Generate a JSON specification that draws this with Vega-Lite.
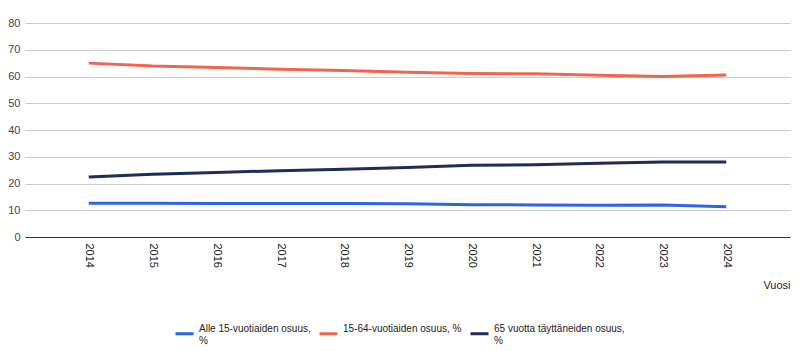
{
  "$schema": "https://vega.github.io/schema/vega-lite/v6.json",
  "autosize": {"type": "none"},
  "width": 765,
  "height": 214,
  "padding": {"left": 25, "top": 23, "right": 10, "bottom": 114},
  "background": "white",
  "config": {
    "view": {"stroke": null},
    "font": "Liberation Sans",
    "axis": {"labelFont": "Liberation Sans", "titleFont": "Liberation Sans"},
    "legend": {"labelFont": "Liberation Sans"}
  },
  "data": {
    "values": [
      {"Vuosi": 2014, "sarja": "Alle 15-vuotiaiden osuus, %", "arvo": 12.6},
      {"Vuosi": 2015, "sarja": "Alle 15-vuotiaiden osuus, %", "arvo": 12.6},
      {"Vuosi": 2016, "sarja": "Alle 15-vuotiaiden osuus, %", "arvo": 12.5},
      {"Vuosi": 2017, "sarja": "Alle 15-vuotiaiden osuus, %", "arvo": 12.5},
      {"Vuosi": 2018, "sarja": "Alle 15-vuotiaiden osuus, %", "arvo": 12.5},
      {"Vuosi": 2019, "sarja": "Alle 15-vuotiaiden osuus, %", "arvo": 12.4},
      {"Vuosi": 2020, "sarja": "Alle 15-vuotiaiden osuus, %", "arvo": 12.1},
      {"Vuosi": 2021, "sarja": "Alle 15-vuotiaiden osuus, %", "arvo": 12.0},
      {"Vuosi": 2022, "sarja": "Alle 15-vuotiaiden osuus, %", "arvo": 11.9},
      {"Vuosi": 2023, "sarja": "Alle 15-vuotiaiden osuus, %", "arvo": 12.0},
      {"Vuosi": 2024, "sarja": "Alle 15-vuotiaiden osuus, %", "arvo": 11.3},
      {"Vuosi": 2014, "sarja": "15-64-vuotiaiden osuus, %", "arvo": 65.0},
      {"Vuosi": 2015, "sarja": "15-64-vuotiaiden osuus, %", "arvo": 63.9},
      {"Vuosi": 2016, "sarja": "15-64-vuotiaiden osuus, %", "arvo": 63.4},
      {"Vuosi": 2017, "sarja": "15-64-vuotiaiden osuus, %", "arvo": 62.7},
      {"Vuosi": 2018, "sarja": "15-64-vuotiaiden osuus, %", "arvo": 62.2},
      {"Vuosi": 2019, "sarja": "15-64-vuotiaiden osuus, %", "arvo": 61.6},
      {"Vuosi": 2020, "sarja": "15-64-vuotiaiden osuus, %", "arvo": 61.1},
      {"Vuosi": 2021, "sarja": "15-64-vuotiaiden osuus, %", "arvo": 61.0},
      {"Vuosi": 2022, "sarja": "15-64-vuotiaiden osuus, %", "arvo": 60.5},
      {"Vuosi": 2023, "sarja": "15-64-vuotiaiden osuus, %", "arvo": 60.0},
      {"Vuosi": 2024, "sarja": "15-64-vuotiaiden osuus, %", "arvo": 60.6},
      {"Vuosi": 2014, "sarja": "65 vuotta täyttäneiden osuus, %", "arvo": 22.4},
      {"Vuosi": 2015, "sarja": "65 vuotta täyttäneiden osuus, %", "arvo": 23.5},
      {"Vuosi": 2016, "sarja": "65 vuotta täyttäneiden osuus, %", "arvo": 24.1},
      {"Vuosi": 2017, "sarja": "65 vuotta täyttäneiden osuus, %", "arvo": 24.8},
      {"Vuosi": 2018, "sarja": "65 vuotta täyttäneiden osuus, %", "arvo": 25.3},
      {"Vuosi": 2019, "sarja": "65 vuotta täyttäneiden osuus, %", "arvo": 26.0},
      {"Vuosi": 2020, "sarja": "65 vuotta täyttäneiden osuus, %", "arvo": 26.8},
      {"Vuosi": 2021, "sarja": "65 vuotta täyttäneiden osuus, %", "arvo": 27.0},
      {"Vuosi": 2022, "sarja": "65 vuotta täyttäneiden osuus, %", "arvo": 27.6},
      {"Vuosi": 2023, "sarja": "65 vuotta täyttäneiden osuus, %", "arvo": 28.0},
      {"Vuosi": 2024, "sarja": "65 vuotta täyttäneiden osuus, %", "arvo": 28.0}
    ]
  },
  "mark": {"type": "line", "strokeWidth": 3, "strokeCap": "butt"},
  "encoding": {
    "x": {
      "field": "Vuosi",
      "type": "quantitative",
      "scale": {"domain": [2013, 2025], "nice": false, "zero": false},
      "axis": {
        "values": [2014, 2015, 2016, 2017, 2018, 2019, 2020, 2021, 2022, 2023, 2024],
        "format": "d",
        "labelAngle": 90,
        "labelAlign": "left",
        "labelBaseline": "middle",
        "labelFontSize": 11,
        "labelColor": "#222222",
        "labelPadding": 6,
        "ticks": false,
        "grid": false,
        "domainColor": "#333333",
        "domainWidth": 1,
        "title": "Vuosi",
        "titleFontSize": 11,
        "titleFontWeight": "normal",
        "titleColor": "#222222",
        "titleAnchor": "end",
        "titleAlign": "right",
        "titleX": 765,
        "titleY": 48,
        "titleBaseline": "middle"
      }
    },
    "y": {
      "field": "arvo",
      "type": "quantitative",
      "scale": {"domain": [0, 80], "nice": false},
      "axis": {
        "values": [0, 10, 20, 30, 40, 50, 60, 70, 80],
        "title": null,
        "domain": false,
        "ticks": false,
        "labelFontSize": 11,
        "labelColor": "#444444",
        "labelPadding": 5,
        "gridColor": "#cccccc",
        "gridWidth": 1
      }
    },
    "color": {
      "field": "sarja",
      "type": "nominal",
      "sort": ["Alle 15-vuotiaiden osuus, %", "15-64-vuotiaiden osuus, %", "65 vuotta täyttäneiden osuus, %"],
      "scale": {
        "domain": ["Alle 15-vuotiaiden osuus, %", "15-64-vuotiaiden osuus, %", "65 vuotta täyttäneiden osuus, %"],
        "range": ["#2b65e3", "#f2644b", "#1d2d58"]
      },
      "legend": {
        "title": null,
        "orient": "none",
        "direction": "horizontal",
        "legendX": 149,
        "legendY": 300,
        "symbolType": "stroke",
        "symbolSize": 324,
        "symbolStrokeWidth": 3,
        "labelFontSize": 10,
        "labelLineHeight": 11,
        "labelBaseline": "bottom",
        "labelColor": "#222222",
        "labelOffset": 4,
        "columnPadding": 2,
        "labelLimit": 200,
        "labelExpr": "datum.label == 'Alle 15-vuotiaiden osuus, %' ? ['Alle 15-vuotiaiden osuus,', '%'] : datum.label == '65 vuotta täyttäneiden osuus, %' ? ['65 vuotta täyttäneiden osuus,', '%'] : [datum.label, '']"
      }
    }
  }
}
